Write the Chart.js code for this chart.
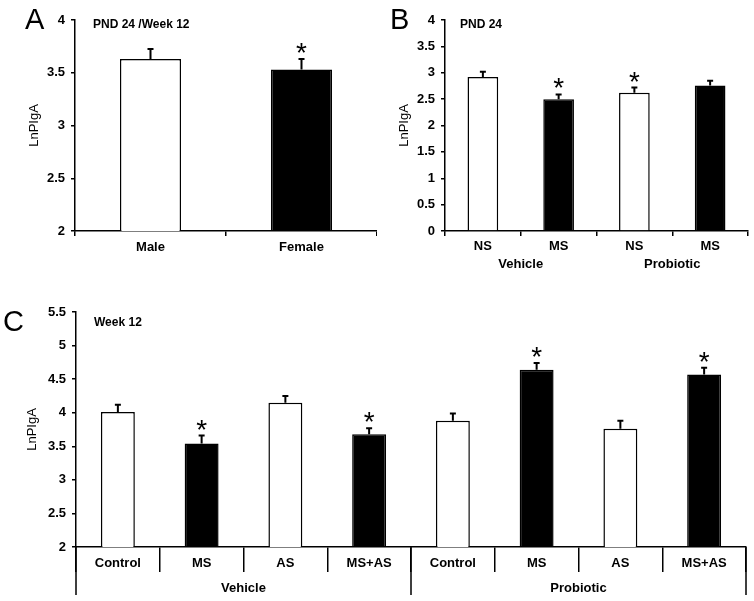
<!DOCTYPE html>
<html>
<head>
<meta charset="utf-8">
<script src="https://cdn.jsdelivr.net/npm/chart.js@4.4.1/dist/chart.umd.min.js"></script>
<style>
  body { margin: 0; background: #fff; width: 754px; height: 601px; position: relative; overflow: hidden;
         font-family: "Liberation Sans", Arial, sans-serif; color: #000; }
  .box { position: absolute; }
  .letter { position: absolute; font-size: 29px; line-height: 29px; }
  .sub { position: absolute; font-size: 12px; line-height: 12px; font-weight: bold; white-space: nowrap; }
</style>
</head>
<body>
<div class="box" style="left:0;top:0;width:377px;height:280px"><canvas id="chartA"></canvas></div>
<div class="box" style="left:377px;top:0;width:377px;height:280px"><canvas id="chartB"></canvas></div>
<div class="box" style="left:0;top:280px;width:754px;height:321px"><canvas id="chartC"></canvas></div>

<div class="letter" style="left:25px;top:5px">A</div>
<div class="letter" style="left:390px;top:5px">B</div>
<div class="letter" style="left:3px;top:307px">C</div>
<div class="sub" style="left:93px;top:18px">PND 24 /Week 12</div>
<div class="sub" style="left:460px;top:18px">PND 24</div>
<div class="sub" style="left:94px;top:316px">Week 12</div>

<script>
// panel A
const catsA = ['Male', 'Female'];
const valsA = [3.63, 3.53];
const errA = [0.095, 0.10];
const sigA = [false, true];

// panel B
const catsB = ['NS', 'MS', 'NS', 'MS'];
const valsB = [2.92, 2.50, 2.62, 2.76];
const errB = [0.10, 0.09, 0.10, 0.09];
const sigB = [false, true, true, false];
const groupsB = ['Vehicle', 'Probiotic'];

// panel C
const catsC = ['Control', 'MS', 'AS', 'MS+AS', 'Control', 'MS', 'AS', 'MS+AS'];
const valsC = [4.01, 3.54, 4.15, 3.68, 3.88, 4.64, 3.76, 4.57];
const errC = [0.11, 0.12, 0.10, 0.09, 0.11, 0.10, 0.12, 0.10];
const sigC = [false, true, false, true, false, true, false, true];
const groupsC = ['Vehicle', 'Probiotic'];

// bar fills (open = control-like, filled = stressed)
const fillsA = ['#fff', '#000'];
const fillsB = ['#fff', '#000', '#fff', '#000'];
const fillsC = ['#fff', '#000', '#fff', '#000', '#fff', '#000', '#fff', '#000'];

Chart.defaults.font.family = '"Liberation Sans", Arial, sans-serif';
Chart.defaults.color = '#000';

// error bars, asterisks and group labels under the x axis
const extras = {
  id: 'extras',
  afterDatasetsDraw(chart, args, opts) {
    const ctx = chart.ctx;
    const meta = chart.getDatasetMeta(0);
    const data = chart.data.datasets[0].data;
    const y = chart.scales.y;
    const x = chart.scales.x;
    ctx.save();
    ctx.strokeStyle = '#000';
    ctx.fillStyle = '#000';
    ctx.lineWidth = 2;
    opts.errors.forEach((e, i) => {
      const bar = meta.data[i];
      const top = y.getPixelForValue(data[i] + e);
      ctx.beginPath();
      ctx.moveTo(bar.x, bar.y);
      ctx.lineTo(bar.x, top);
      ctx.moveTo(bar.x - 3, top);
      ctx.lineTo(bar.x + 3, top);
      ctx.stroke();
      if (opts.marks[i]) {
        ctx.font = '28px "Liberation Sans", Arial, sans-serif';
        ctx.textAlign = 'center';
        ctx.textBaseline = 'alphabetic';
        ctx.fillText('*', bar.x, top - 13 + 0.575 * 28);
      }
    });
    if (opts.groups) {
      const n = data.length / opts.groups.length;
      const step = (x.right - x.left) / data.length;
      ctx.font = 'bold 13px "Liberation Sans", Arial, sans-serif';
      ctx.textAlign = 'center';
      ctx.textBaseline = 'middle';
      opts.groups.forEach((g, k) => {
        const cx = (meta.data[k * n].x + meta.data[k * n + n - 1].x) / 2;
        ctx.fillText(g, cx, chart.chartArea.bottom + opts.groupOffset);
      });
      if (opts.groupLine) {
        ctx.lineWidth = 1.5;
        ctx.beginPath();
        for (let k = 0; k <= opts.groups.length; k++) {
          const gx = x.left + k * n * step;
          ctx.moveTo(gx, chart.chartArea.bottom);
          ctx.lineTo(gx, chart.chartArea.bottom + opts.groupLine);
        }
        ctx.stroke();
      }
    }
    ctx.restore();
  }
};

function yAxis(min, max, width, titlePad) {
  return {
    min: min, max: max,
    ticks: {
      stepSize: 0.5, color: '#000', font: { size: 13, weight: 'bold' }, padding: 6,
      callback: (v) => String(Math.round(v * 10) / 10)
    },
    grid: { drawOnChartArea: false, tickLength: 4, color: '#000', lineWidth: 1.5 },
    border: { color: '#000', width: 1.5 },
    title: { display: true, text: 'LnPIgA', color: '#000', font: { size: 13 }, padding: { top: titlePad, bottom: 0 } },
    afterFit(s) { s.width = width; }
  };
}

function xAxis(height, tickLen, pad) {
  return {
    ticks: { color: '#000', font: { size: 13, weight: 'bold' }, padding: pad, maxRotation: 0, autoSkip: false },
    grid: { drawOnChartArea: false, offset: true, tickLength: tickLen, color: '#000', lineWidth: 1.5 },
    border: { color: '#000', width: 1.5 },
    afterFit(s) { s.height = height; }
  };
}

function makeChart(id, cats, vals, fills, errs, sigs, yOpts, xOpts, padding, groupOpts) {
  new Chart(document.getElementById(id), {
    type: 'bar',
    data: {
      labels: cats,
      datasets: [{
        data: vals,
        backgroundColor: fills,
        borderColor: '#000',
        borderWidth: 1.5,
        categoryPercentage: 1,
        barPercentage: 0.405
      }]
    },
    options: {
      responsive: true,
      maintainAspectRatio: false,
      animation: false,
      layout: { padding: padding },
      scales: { x: xOpts, y: yOpts },
      plugins: {
        legend: { display: false },
        tooltip: { enabled: false },
        extras: Object.assign({ errors: errs, marks: sigs }, groupOpts || {})
      }
    },
    plugins: [extras]
  });
}

makeChart('chartA', catsA, valsA, fillsA, errA, sigA,
  yAxis(2, 4, 75, 27), xAxis(49, 5, 4),
  { top: 20, left: 0, right: 0, bottom: 0 });

makeChart('chartB', catsB, valsB, fillsB, errB, sigB,
  yAxis(0, 4, 68, 20), xAxis(49, 5, 3),
  { top: 20, left: 0, right: 6, bottom: 0 },
  { groups: groupsB, groupOffset: 33 });

makeChart('chartC', catsC, valsC, fillsC, errC, sigC,
  yAxis(2, 5.5, 76, 25), xAxis(54, 25, -16),
  { top: 32, left: 0, right: 8, bottom: 0 },
  { groups: groupsC, groupOffset: 41, groupLine: 48 });
</script>
</body>
</html>
